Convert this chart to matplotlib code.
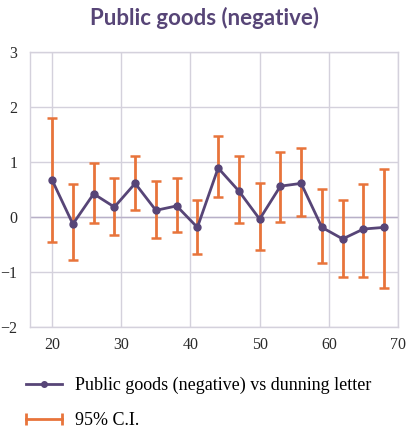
import matplotlib.pyplot as plt
from matplotlib.lines import Line2D
from matplotlib.legend_handler import HandlerLine2D

# age groups and estimated effect with 95% confidence bounds
ages = [20, 23, 26, 29, 32, 35, 38, 41, 44, 47, 50, 53, 56, 59, 62, 65, 68]
effect = [0.67, -0.13, 0.42, 0.18, 0.61, 0.12, 0.20, -0.19, 0.89, 0.47,
          -0.04, 0.56, 0.61, -0.19, -0.40, -0.22, -0.19]
ci_upper = [1.79, 0.60, 0.98, 0.71, 1.10, 0.66, 0.71, 0.30, 1.47, 1.10,
            0.62, 1.18, 1.26, 0.50, 0.30, 0.60, 0.87]
ci_lower = [-0.45, -0.79, -0.11, -0.32, 0.13, -0.38, -0.27, -0.68, 0.36, -0.11,
            -0.61, -0.09, 0.02, -0.83, -1.10, -1.10, -1.29]

x_ticks = [20, 30, 40, 50, 60, 70]
y_ticks = [-2, -1, 0, 1, 2, 3]

purple = "#574577"
orange = "#e8743b"
grid_col = "#d4d1dc"

fig = plt.figure(figsize=(4.08, 4.33), dpi=100)
ax = fig.add_axes([0.0735, 0.245, 0.902, 0.635])

err_lo = [e - l for e, l in zip(effect, ci_lower)]
err_hi = [u - e for e, u in zip(effect, ci_upper)]

ax.errorbar(ages, effect, yerr=[err_lo, err_hi], fmt="none",
            ecolor=orange, elinewidth=2, capsize=3.5, capthick=1.8, zorder=2)
ax.plot(ages, effect, color=purple, linewidth=2, marker="o",
        markersize=5, zorder=3)

ax.set_xlim(16.8, 70)
ax.set_ylim(-2, 3)
ax.set_xticks(x_ticks)
ax.set_yticks(y_ticks)
ax.grid(True, color=grid_col, linewidth=1)
ax.axhline(0, color="#b8b0c8", linewidth=1, zorder=1)
ax.set_axisbelow(True)
for s in ax.spines.values():
    s.set_color(grid_col)
    s.set_linewidth(1)
ax.tick_params(axis="x", length=0, pad=7, labelsize=11.5, labelcolor="#2a2a2a")
ax.tick_params(axis="y", length=0, pad=9, labelsize=11.5, labelcolor="#2a2a2a")
for lab in ax.get_xticklabels() + ax.get_yticklabels():
    lab.set_family("Liberation Serif")

fig.text(0.5, 0.958, "Public goods (negative)", ha="center", va="center",
         fontsize=16, fontweight="bold", color=purple, family="Lato")

# legend below the axes
h_line = Line2D([], [], color=purple, linewidth=2, marker="o", markersize=4)
h_ci = Line2D([], [], color=orange, linewidth=2, marker="|",
              markersize=9, markeredgewidth=2)
fig.legend([h_line, h_ci],
           ["Public goods (negative) vs dunning letter", "95% C.I."],
           loc="upper left", bbox_to_anchor=(0.045, 0.147),
           frameon=False, handlelength=2.0, handletextpad=0.75,
           labelspacing=1.0, borderaxespad=0,
           prop={"family": "Liberation Serif", "size": 13},
           handler_map={h_line: HandlerLine2D(numpoints=1),
                        h_ci: HandlerLine2D(numpoints=2, marker_pad=0)})

fig.savefig("out.png", dpi=100)
